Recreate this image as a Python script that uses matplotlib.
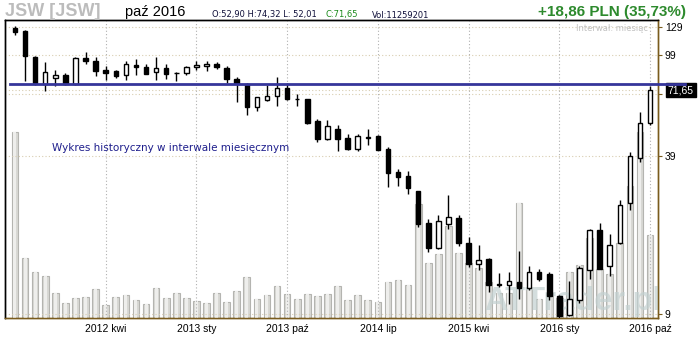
import numpy as np
import pandas as pd
import matplotlib.pyplot as plt

# monthly candles JSW, Jul 2011 - Oct 2016
months = pd.period_range('2011-07', '2016-10', freq='M')

opens = [127.5, 124.3, 97.5, 76.1, 80.0, 82.3, 76.1, 96.6, 93.6, 86.4,
         85.6, 82.5, 90.8, 88.8, 84.6, 87.8, 84.3, 83.8, 88.6, 89.6,
         91.3, 87.8, 79.5, 75.9, 61.1, 65.6, 67.7, 72.9, 66.3, 66.0,
         53.8, 45.7, 50.0, 45.9, 41.7, 46.2, 46.9, 41.5, 33.6, 32.3,
         28.1, 20.9, 16.6, 20.8, 21.9, 17.4, 14.27, 15.0, 11.9, 11.8,
         12.1, 11.4, 13.3, 13.0, 10.6, 8.9, 10.2, 13.5, 19.6, 14.0,
         17.4, 25.1, 38.1, 52.90]
highs = [130.0, 125.0, 98.5, 93.0, 86.6, 84.0, 97.0, 102.1, 97.2, 90.0,
         86.6, 94.2, 95.7, 91.3, 97.5, 91.3, 84.6, 89.6, 93.6, 93.9,
         92.8, 89.6, 80.7, 76.5, 67.5, 75.2, 80.7, 76.4, 69.2, 66.3,
         54.9, 54.2, 51.7, 47.7, 47.7, 50.0, 47.2, 42.3, 34.5, 33.9,
         28.2, 21.7, 22.5, 27.1, 22.5, 18.4, 17.0, 15.1, 13.1, 13.3,
         16.2, 14.06, 13.6, 13.3, 10.7, 12.2, 14.0, 19.7, 20.9, 18.85,
         25.8, 40.4, 58.4, 74.32]
lows = [119.8, 77.8, 75.5, 70.9, 74.3, 75.4, 75.5, 91.6, 82.0, 78.5,
        80.0, 78.5, 82.5, 83.2, 79.0, 79.7, 78.2, 82.3, 86.4, 85.8,
        86.8, 76.4, 64.4, 57.0, 59.2, 65.0, 62.1, 65.6, 62.1, 52.6,
        44.2, 45.1, 40.9, 41.3, 40.9, 43.1, 41.0, 29.2, 29.5, 27.4,
        20.2, 16.0, 16.5, 19.7, 16.9, 13.96, 13.57, 11.0, 11.56, 9.9,
        10.3, 11.2, 12.2, 10.2, 8.6, 8.8, 9.97, 12.5, 13.6, 12.8,
        17.2, 23.5, 36.7, 52.01]
closes = [123.2, 98.1, 76.6, 84.8, 82.3, 76.1, 96.3, 93.9, 85.4, 84.0,
          81.5, 91.1, 89.1, 83.5, 87.8, 83.0, 84.0, 88.6, 90.5, 91.3,
          89.2, 79.7, 76.6, 61.5, 67.1, 67.7, 72.9, 66.2, 66.0, 53.0,
          45.7, 51.3, 45.7, 41.4, 46.7, 46.6, 41.2, 33.4, 32.1, 28.8,
          20.8, 16.6, 21.3, 22.1, 17.3, 14.35, 14.8, 11.8, 11.8, 12.2,
          11.4, 13.25, 12.5, 10.6, 8.8, 10.3, 13.75, 19.6, 13.7, 17.1,
          24.8, 38.8, 52.79, 71.65]
# volume in millions of shares
volumes = [25.2, 8.2, 6.2, 5.7, 3.35, 2.0, 2.67, 2.8, 3.9, 1.76,
           2.8, 3.08, 2.4, 1.9, 4.03, 2.67, 3.35, 2.67, 2.27, 2.0,
           3.35, 2.13, 3.62, 5.52, 2.54, 3.08, 4.3, 3.2, 2.54, 3.2,
           2.94, 3.2, 4.3, 2.4, 3.08, 2.4, 2.13, 4.84, 5.11, 4.44,
           15.4, 7.42, 8.64, 12.44, 8.78, 7.5, 6.8, 4.84, 3.35, 3.4,
           15.56, 4.1, 2.58, 3.4, 2.7, 6.2, 7.15, 10.9, 6.69, 5.97,
           10.2, 17.87, 25.2, 11.2592]

tick_months = ['2012-04', '2013-01', '2013-10', '2014-07', '2015-04', '2016-01', '2016-10']
tick_labels = ['2012 kwi', '2013 sty', '2013 paź', '2014 lip', '2015 kwi', '2016 sty', '2016 paź']
price_ticks = [9, 39, 69, 99, 129]
support_level = 76.1

o = np.array(opens)
h = np.array(highs)
l = np.array(lows)
c = np.array(closes)
x = np.arange(len(months))
tick_pos = [months.get_loc(pd.Period(m, freq='M')) for m in tick_months]

W, H = 700, 340
fig = plt.figure(figsize=(7, 3.4), dpi=100)
rect = [5 / W, (H - 318) / H, 653 / W, 298 / H]

ax_v = fig.add_axes(rect)
ax = ax_v.twinx()

# volume behind
ax_v.bar(x, volumes, width=0.66, color='#d8d8d4', edgecolor='#b4b4b0', lw=0.8, zorder=2)
ax_v.bar(x, volumes, width=0.3, color='#eeeeec', lw=0, zorder=3)
ax_v.set_ylim(0, 40.4)
ax_v.set_yticks([])
ax_v.set_xlim(-0.99, 63.79)
ax_v.set_xticks(tick_pos)
ax_v.set_xticklabels(tick_labels, fontsize=7.5, family='Liberation Sans')
ax_v.tick_params(axis='x', length=0, pad=4)

# price axis
ax.set_yscale('log')
ax.set_ylim(8.67, 137.3)
ax.set_yticks(price_ticks)
ax.set_yticklabels([str(t) if t != 69 else '' for t in price_ticks], fontsize=7.5,
                   family='Liberation Sans')
ax.yaxis.set_minor_locator(plt.NullLocator())
ax.tick_params(axis='y', length=3, width=0.8, color='#7a5c1e', pad=2)

for a in (ax, ax_v):
    a.spines['top'].set_color('black')
    a.spines['left'].set_color('black')
    a.spines['right'].set_color('#7a5c1e')
    a.spines['bottom'].set_color('#7a5c1e')
    for s in a.spines.values():
        s.set_linewidth(1)

# grid
for t in price_ticks + [closes[-1]]:
    ax.axhline(t, color='#d8cdb0', lw=0.8, ls=(0, (1, 2)), zorder=1)
for p in tick_pos:
    ax.axvline(p, color='#b0b0b0', lw=0.8, ls=(0, (1, 2)), zorder=1)

ax.text(0.985, 0.97, 'Interwał: miesiąc', transform=ax.transAxes, ha='right', va='center',
        fontsize=6, color='#c0c0c0')
ax.text(0.870, 0.055, 'ATTrader.pl', transform=ax.transAxes, ha='center', va='center',
        fontsize=23.5, color='#c3d1d1', alpha=0.7, family='Liberation Sans',
        fontweight='bold', zorder=2)

# candles
ax.vlines(x, l, h, color='black', lw=1, zorder=3)
up = c >= o
bottom = np.minimum(o, c)
height = np.abs(c - o)
ax.bar(x[up], height[up], bottom=bottom[up], width=0.45, facecolor='white',
       edgecolor='black', lw=1, zorder=4)
ax.bar(x[~up], height[~up], bottom=bottom[~up], width=0.45, facecolor='black',
       edgecolor='black', lw=1, zorder=4)

ax.plot([-0.5, 66.5], [support_level, support_level], color='#35359a', lw=2,
        clip_on=False, zorder=5)

ax.text(0.072, 0.57, 'Wykres historyczny w interwale miesięcznym', transform=ax.transAxes,
        fontsize=7.5, color='#1e1e8c', va='center')

# last close box
last = f'{closes[-1]:.2f}'.replace('.', ',')
ax.annotate(last, xy=(1, closes[-1]), xycoords=('axes fraction', 'data'),
            xytext=(7, 0), textcoords='offset points', ha='left', va='center',
            fontsize=7.5, color='white', family='Liberation Sans',
            bbox=dict(boxstyle='square,pad=0.2', fc='black', ec='black'))

# header
fmt = lambda v: f'{v:.2f}'.replace('.', ',')
chg = closes[-1] - closes[-2]
pct = chg / closes[-2] * 100
fig.text(5 / W, 1 - 11 / H, 'JSW [JSW]', fontsize=13, fontweight='bold', color='#bcbcbc',
         family='Liberation Sans', va='center')
fig.text(125 / W, 1 - 12 / H, 'paź 2016', fontsize=10.5, color='black',
         family='Liberation Sans', va='center')
fig.text(212 / W, 1 - 15 / H, f'O:{fmt(opens[-1])} H:{fmt(highs[-1])} L: {fmt(lows[-1])}',
         fontsize=6, color='#10103a', va='center')
fig.text(326 / W, 1 - 15 / H, f'C:{fmt(closes[-1])}', fontsize=6, color='#1a8a1a', va='center')
fig.text(372 / W, 1 - 15 / H, 'Vol:11259201', fontsize=6, color='#10103a', va='center')
fig.text(686 / W, 1 - 12 / H, f'+{fmt(chg)} PLN ({fmt(pct)}%)', fontsize=11, fontweight='bold',
         color='#2d8a2d', family='Liberation Sans', ha='right', va='center')

fig.savefig('out.png', dpi=100)
